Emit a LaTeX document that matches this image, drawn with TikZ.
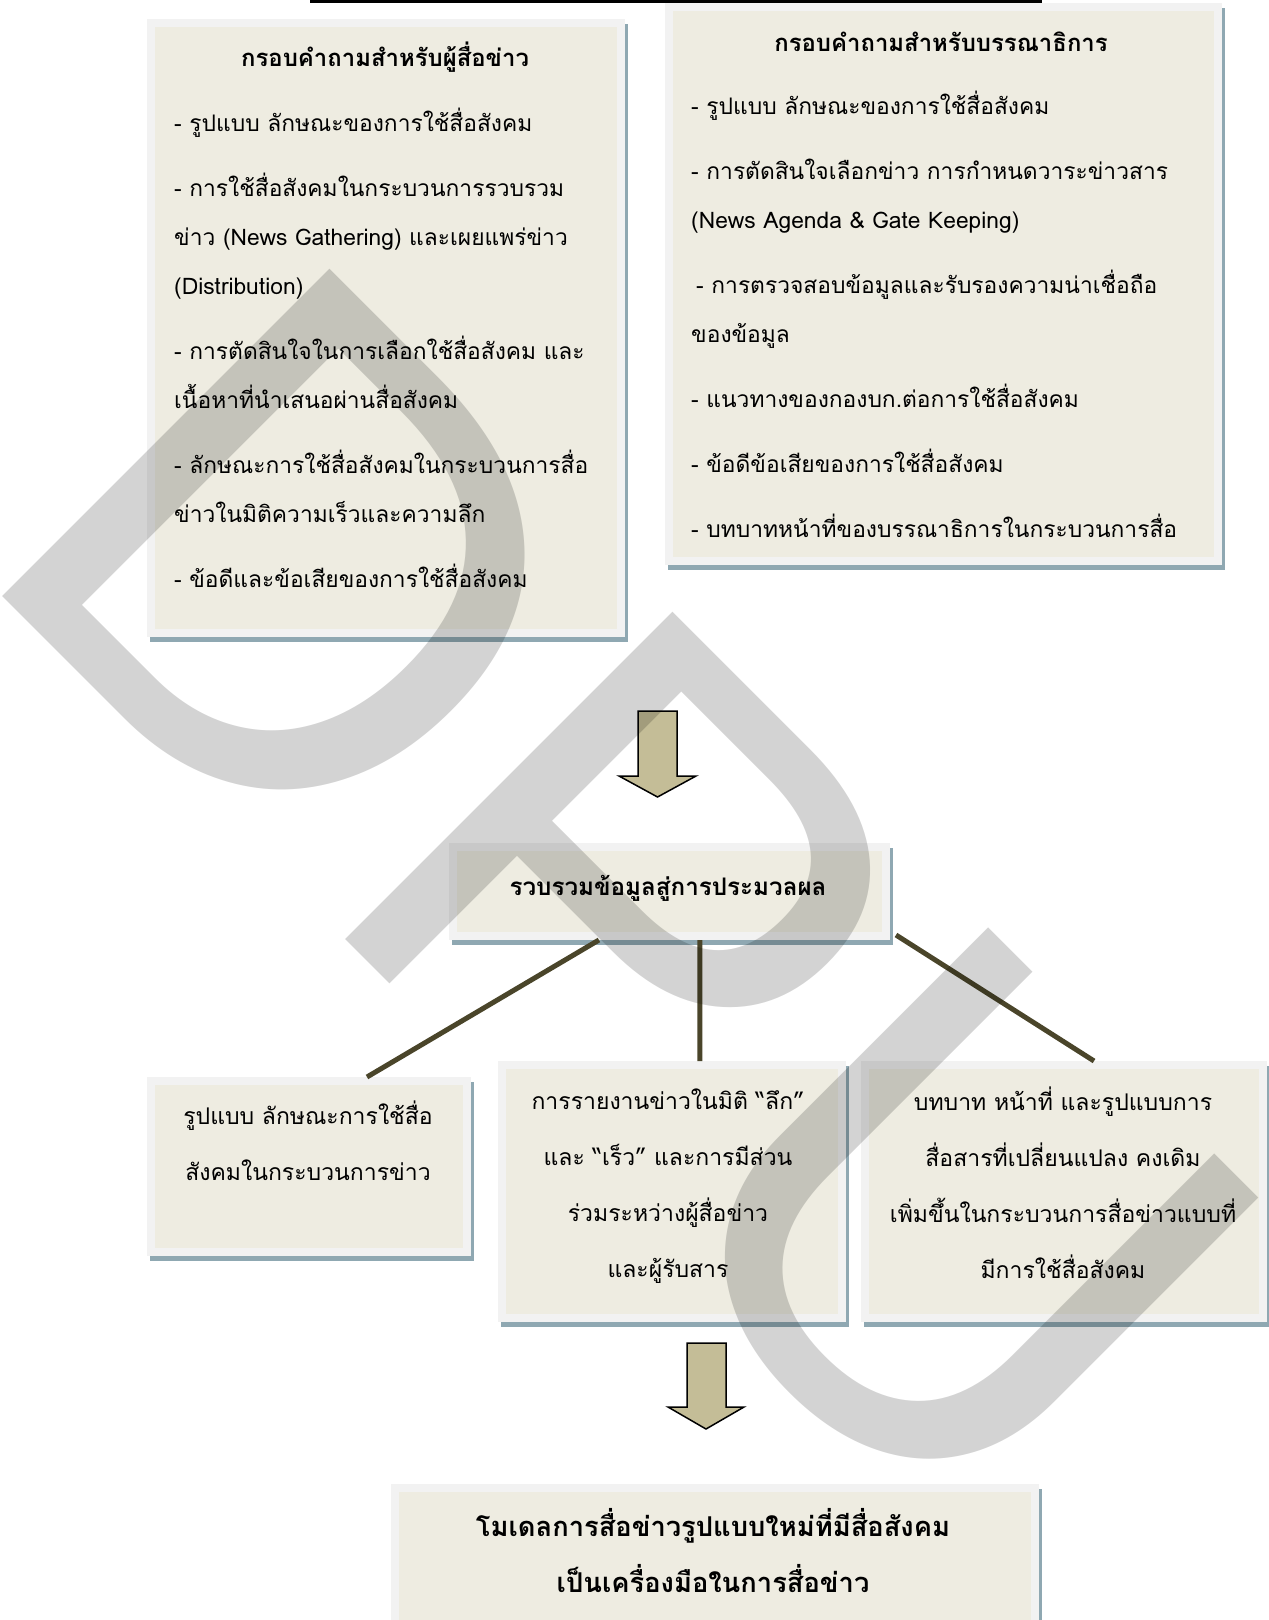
\documentclass[tikz,border=0pt]{standalone}
\usepackage{fontspec}
\setmainfont{Loma}[Script=Thai]
\newfontfamily\markfont{Liberation Sans}
\usetikzlibrary{positioning,calc}

\definecolor{boxbeige}{RGB}{238,236,225}
\definecolor{boxframe}{RGB}{242,242,242}
\definecolor{boxshadow}{RGB}{143,168,178}
\definecolor{arrowtan}{RGB}{196,189,151}
\definecolor{linkbrown}{RGB}{74,69,42}
\definecolor{wmgray}{RGB}{211,211,211}

\tikzset{
  qbox/.style={rectangle, fill=boxbeige, draw=boxframe, line width=8pt, inner sep=0pt,
    preaction={draw=boxshadow, line width=8pt, transform canvas={shift={(3pt,-5pt)}}}},
  titletext/.style={font=\bfseries\fontsize{23.9}{49}\selectfont, anchor=base, inner sep=0pt},
  itemtext/.style={font=\fontsize{22.8}{49}\selectfont, align=left, anchor=base west, inner sep=0pt},
  boxtext/.style={font=\fontsize{23}{56}\selectfont, align=center, anchor=base, inner sep=0pt},
  bigtext/.style={font=\bfseries\fontsize{27.3}{56}\selectfont, align=center, anchor=base, inner sep=0pt},
  link/.style={draw=linkbrown, line width=5pt},
  blockarrow/.style={fill=arrowtan, draw=black, line width=1.5pt, line join=miter},
  watermark/.style={font=\markfont\fontsize{673}{673}\selectfont, text=wmgray, inner sep=0pt}
}

\begin{document}
\begin{tikzpicture}[x=1pt,y=-1pt]
\useasboundingbox (0,0) rectangle (1269,1620);

% Title underline (title itself is off the page)
\draw[line width=2.5pt] (310,1.5) -- (1042,1.5);

% Question frames
\node[qbox, minimum width=470pt, minimum height=610pt] (reporter) at (386,328) {};
\node[qbox, minimum width=549pt, minimum height=554pt] (editor) at (943.5,284) {};

\node[titletext] (reporter-title) at (385,66) {กรอบคำถามสำหรับผู้สื่อข่าว};
\node[itemtext, text width=440pt] (reporter-items) at (174,131) {%
- รูปแบบ ลักษณะของการใช้สื่อสังคม\\[16pt]
- การใช้สื่อสังคมในกระบวนการรวบรวม\\
ข่าว (News Gathering) และเผยแพร่ข่าว\\
(Distribution)\\[16pt]
- การตัดสินใจในการเลือกใช้สื่อสังคม และ\\
เนื้อหาที่นำเสนอผ่านสื่อสังคม\\[16pt]
- ลักษณะการใช้สื่อสังคมในกระบวนการสื่อ\\
ข่าวในมิติความเร็วและความลึก\\[16pt]
- ข้อดีและข้อเสียของการใช้สื่อสังคม};

\node[titletext] (editor-title) at (941,51) {กรอบคำถามสำหรับบรรณาธิการ};
\node[itemtext, text width=530pt] (editor-items) at (691,114) {%
- รูปแบบ ลักษณะของการใช้สื่อสังคม\\[16pt]
- การตัดสินใจเลือกข่าว การกำหนดวาระข่าวสาร\\
(News Agenda \& Gate Keeping)\\[16pt]
\hspace*{5pt}- การตรวจสอบข้อมูลและรับรองความน่าเชื่อถือ\\
ของข้อมูล\\[16pt]
- แนวทางของกองบก.ต่อการใช้สื่อสังคม\\[16pt]
- ข้อดีข้อเสียของการใช้สื่อสังคม\\[16pt]
- บทบาทหน้าที่ของบรรณาธิการในกระบวนการสื่อ};

% Arrow down to the merge step
\draw[blockarrow] (638,711) -- (677,711) -- (677,776) -- (696,776) -- (657.5,797)
  -- (619,776) -- (638,776) -- cycle;

% Merge step
\node[qbox, minimum width=433pt, minimum height=89pt] (merge) at (669.5,891.5) {};
\node[bigtext, font=\bfseries\fontsize{24.2}{56}\selectfont, text width=420pt] (merge-text) at (668,895) {รวบรวมข้อมูลสู่การประมวลผล};

% Result frames
\node[qbox, minimum width=316pt, minimum height=171pt] (form) at (309,1166.5) {};
\node[qbox, minimum width=340pt, minimum height=253pt] (depth) at (672,1191.5) {};
\node[qbox, minimum width=398pt, minimum height=253pt] (role) at (1064,1191.5) {};

\node[boxtext, text width=300pt] (form-text) at (308,1124) {รูปแบบ ลักษณะการใช้สื่อ\\สังคมในกระบวนการข่าว};
\node[boxtext, text width=330pt] (depth-text) at (668,1109) {การรายงานข่าวในมิติ “ลึก”\\และ “เร็ว” และการมีส่วน\\ร่วมระหว่างผู้สื่อข่าว\\และผู้รับสาร};
\node[boxtext, text width=390pt] (role-text) at (1063,1110) {บทบาท หน้าที่ และรูปแบบการ\\สื่อสารที่เปลี่ยนแปลง คงเดิม\\เพิ่มขึ้นในกระบวนการสื่อข่าวแบบที่\\มีการใช้สื่อสังคม};

% Links from merge step
\draw[link] ($(merge.south west)!0.34!(merge.south east)$) -- ($(form.north west)!0.679!(form.north east)$);
\draw[link] ($(merge.south west)!0.569!(merge.south east)$) -- ($(depth.north west)!0.58!(depth.north east)$);
\draw[link] ($(merge.south east)+(6,-5)$) -- ($(role.north west)!0.574!(role.north east)$);

% Arrow down to the model
\draw[blockarrow] (687,1343) -- (726,1343) -- (726,1407) -- (744,1407) -- (706,1429)
  -- (668,1407) -- (687,1407) -- cycle;

% Model
\node[qbox, minimum width=640pt, minimum height=150pt] (model) at (715,1563) {};
\node[bigtext, text width=620pt] (model-text) at (713,1536) {โมเดลการสื่อข่าวรูปแบบใหม่ที่มีสื่อสังคม\\เป็นเครื่องมือในการสื่อข่าว};

% Watermark
\begin{scope}[blend mode=multiply]
\node[watermark, rotate=-45, anchor=base west] (dpu) at (-37,557) {DPU};
\end{scope}

\end{tikzpicture}
\end{document}
